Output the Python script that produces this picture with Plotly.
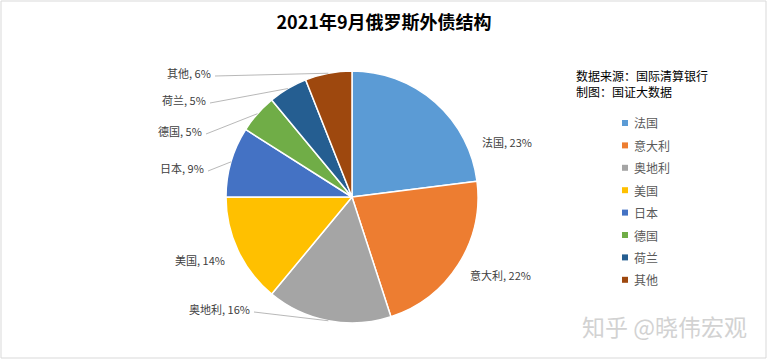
import math
import plotly.graph_objects as go

countries = ["法国", "意大利", "奥地利", "美国", "日本", "德国", "荷兰", "其他"]
shares = [23, 22, 16, 14, 9, 5, 5, 6]
colors = ["#5B9BD5", "#ED7D31", "#A5A5A5", "#FFC000", "#4472C4", "#70AD47", "#255E91", "#9E480E"]

W, H = 768, 359
cx, cy, r = 352, 197, 126

# label placement (layout): anchor x, y, side, has leader line
label_pos = [(480, 142, "left", False), (468, 275, "left", False), (252, 309, "right", True),
             (227, 260, "right", False), (206, 168, "right", True), (204, 131, "right", True),
             (208, 100, "right", True), (213, 73, "right", True)]

def px(x):
    return x / W

def py(y):
    return 1 - y / H

fig = go.Figure(go.Pie(
    labels=countries, values=shares, sort=False, direction="clockwise", rotation=0,
    marker=dict(colors=colors, line=dict(color="white", width=1.5)),
    textinfo="none", showlegend=False,
    domain=dict(x=[px(cx - r), px(cx + r)], y=[py(cy + r), py(cy - r)]),
    hoverinfo="label+percent",
))

total = sum(shares)
cum = 0
for name, v, (lx, ly, side, leader) in zip(countries, shares, label_pos):
    mid = (cum + v / 2) / total * 2 * math.pi
    cum += v
    fig.add_annotation(text=f"{name}, {v}%", x=px(lx), y=py(ly), xref="paper", yref="paper",
                       xanchor=side, yanchor="middle", showarrow=False,
                       font=dict(size=11, color="#404040", family="Noto Sans CJK SC"))
    if leader:
        ex = cx + r * math.sin(mid)
        ey = cy - r * math.cos(mid)
        fig.add_shape(type="line", xref="paper", yref="paper",
                      x0=px(lx + 2), y0=py(ly + 3), x1=px(ex), y1=py(ey),
                      line=dict(color="#A6A6A6", width=0.8))

# manual legend
leg_x, leg_y0, leg_dy = 625, 123, 22.4
for i, (name, c) in enumerate(zip(countries, colors)):
    yy = leg_y0 + i * leg_dy
    fig.add_shape(type="rect", xref="paper", yref="paper",
                  x0=px(leg_x - 3), x1=px(leg_x + 3), y0=py(yy + 3), y1=py(yy - 3),
                  fillcolor=c, line=dict(width=0))
    fig.add_annotation(text=name, x=px(leg_x + 7), y=py(yy), xref="paper", yref="paper",
                       xanchor="left", yanchor="middle", showarrow=False,
                       font=dict(size=12, color="#595959", family="Noto Sans CJK SC"))

fig.update_layout(
    width=W, height=H, margin=dict(l=0, r=0, t=0, b=0),
    paper_bgcolor="white", plot_bgcolor="white",
    font=dict(family="Noto Sans CJK SC", color="#404040"),
    title=dict(text="<b>2021年9月俄罗斯外债结构</b>", x=0.5, xanchor="center", y=py(23), yanchor="middle",
               font=dict(size=18, color="black", family="Noto Sans CJK SC")),
    showlegend=False,
)
fig.add_annotation(text="数据来源：国际清算银行<br>制图：国证大数据", x=px(574), y=py(65), xref="paper", yref="paper",
                   xanchor="left", yanchor="top", align="left", showarrow=False,
                   font=dict(size=12, color="black", family="Noto Sans CJK SC"))
fig.add_annotation(text="知乎 @晓伟宏观", x=px(749), y=py(326), xref="paper", yref="paper",
                   xanchor="right", yanchor="middle", showarrow=False,
                   font=dict(size=23, color="#D2D2D2", family="Noto Sans CJK SC"))
fig.add_shape(type="rect", xref="paper", yref="paper", x0=px(1), y0=py(358), x1=px(766), y1=py(1),
              line=dict(color="#D9D9D9", width=1))
fig.write_html("out.html", config={"displayModeBar": False},
               post_script="document.body.style.margin='0';document.body.style.padding='0';")
